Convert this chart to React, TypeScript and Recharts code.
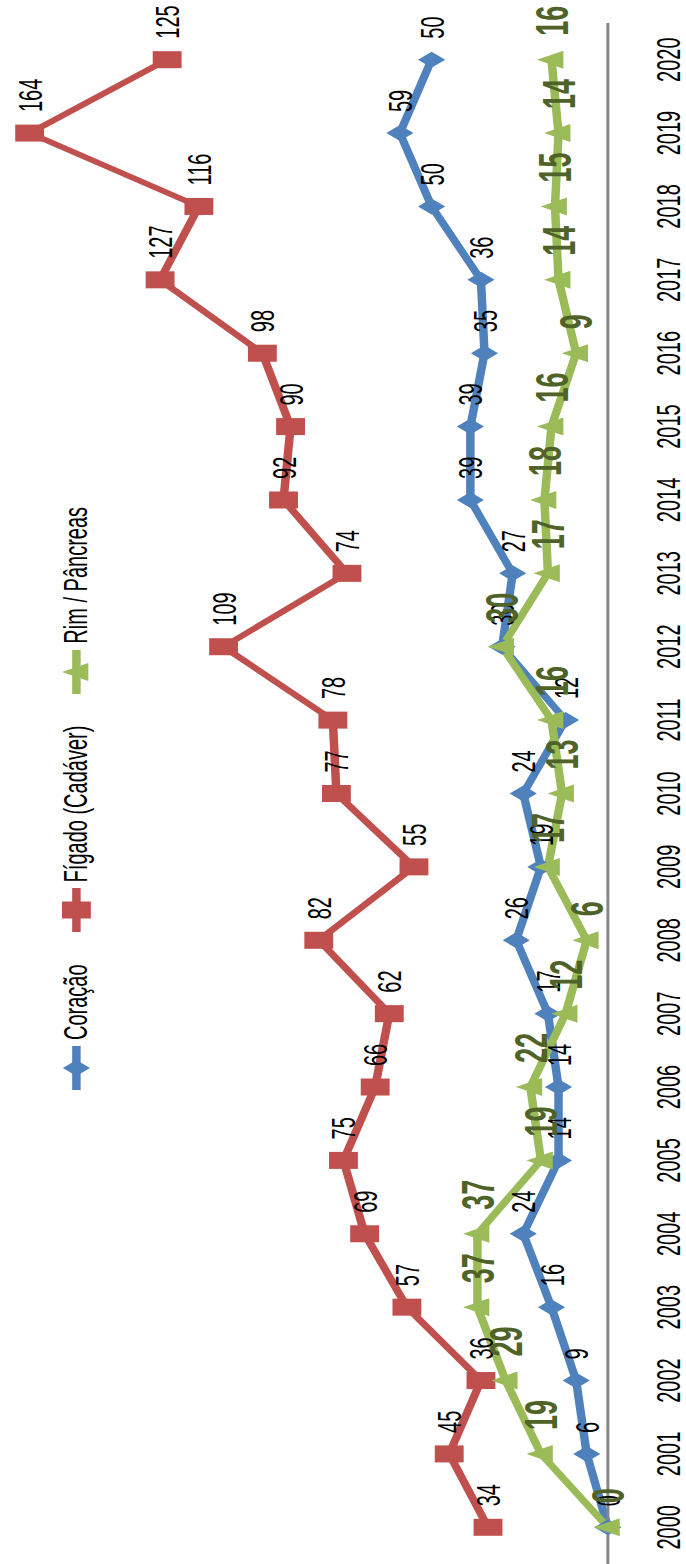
import { LineChart, Line, XAxis, YAxis, Legend, LabelList } from "recharts";

// chart is drawn lying down and then turned + stretched like the source picture
const W = 1564;
const H = 404;
const S = 686 / H;
const FONT = "'Liberation Sans', Arial, sans-serif";

const years = [
  "2000", "2001", "2002", "2003", "2004", "2005", "2006", "2007", "2008", "2009", "2010",
  "2011", "2012", "2013", "2014", "2015", "2016", "2017", "2018", "2019", "2020",
];
const coracao = [0, 6, 9, 16, 24, 14, 14, 17, 26, 19, 24, 12, 30, 27, 39, 39, 35, 36, 50, 59, 50];
const figado = [34, 45, 36, 57, 69, 75, 66, 62, 82, 55, 77, 78, 109, 74, 92, 90, 98, 127, 116, 164, 125];
const rimPancreas = [0, 19, 29, 37, 37, 19, 22, 12, 6, 17, 13, 16, 30, 17, 18, 16, 9, 14, 15, 14, 16];

const seriesNames = ["Coração", "Fígado (Cadáver)", "Rim / Pâncreas"];
const seriesKeys = ["coracao", "figado", "rim"];
const seriesColors = ["#4F81BD", "#C0504D", "#9BBB59"];

const rows = years.map((year, i) => ({
  year,
  coracao: coracao[i],
  figado: figado[i],
  rim: rimPancreas[i],
}));

function marker(kind: string, cx: number, cy: number, color: string, key?: any) {
  if (kind === "coracao") {
    const r = 8;
    return (
      <polygon key={key} points={`${cx},${cy - r} ${cx + r},${cy} ${cx},${cy + r} ${cx - r},${cy}`} fill={color} />
    );
  }
  if (kind === "figado") {
    return <rect key={key} x={cx - 8.5} y={cy - 8.5} width={17} height={17} fill={color} />;
  }
  return (
    <polygon key={key} points={`${cx},${cy - 8.5} ${cx + 9},${cy + 7} ${cx - 9},${cy + 7}`} fill={color} />
  );
}

function makeDot(kind: string, color: string) {
  return (props: any) => {
    const { cx, cy, index } = props;
    if (cx == null || cy == null) return <g key={index} />;
    return marker(kind, cx, cy, color, index);
  };
}

function LegendBox() {
  return (
    <div style={{ display: "flex", alignItems: "center", fontFamily: FONT, fontSize: 20, color: "#000", whiteSpace: "nowrap" }}>
      {seriesNames.map((name, i) => (
        <div key={name} style={{ display: "flex", alignItems: "center", marginRight: 32 }}>
          <svg width={44} height={22}>
            <line x1={0} y1={11} x2={44} y2={11} stroke={seriesColors[i]} strokeWidth={5} />
            {marker(seriesKeys[i], 22, 11, seriesColors[i])}
          </svg>
          <span style={{ marginLeft: 6 }}>{name}</span>
        </div>
      ))}
    </div>
  );
}

export default function App() {
  return (
    <div style={{ position: "fixed", left: 0, top: 0, width: 686, height: 1564, overflow: "hidden", background: "#fff" }}>
      <div
        style={{
          position: "absolute",
          left: 0,
          top: 0,
          width: W,
          height: H,
          transformOrigin: "0 0",
          transform: `translate(0px, ${W}px) scale(${S}, 1) rotate(-90deg)`,
        }}
      >
        <LineChart width={W} height={H} data={rows} margin={{ top: 5, right: 23, left: 0, bottom: 0 }} style={{ fontFamily: FONT }}>
          <XAxis
            dataKey="year"
            height={46}
            tickLine={false}
            tickSize={0}
            tickMargin={28}
            interval={0}
            padding={{ left: 36.7, right: 36.7 }}
            axisLine={{ stroke: "#868686", strokeWidth: 1.75 }}
            tick={{ fill: "#000", fontSize: 20, fontFamily: FONT }}
          />
          <YAxis hide domain={[0, 170]} />
          <Legend
            layout="horizontal"
            verticalAlign="middle"
            align="center"
            wrapperStyle={{ top: 33, left: 474, width: "auto" }}
            content={() => <LegendBox />}
          />
          <Line
            dataKey="coracao"
            name={seriesNames[0]}
            stroke={seriesColors[0]}
            strokeWidth={5}
            dot={makeDot("coracao", seriesColors[0])}
            activeDot={false}
            isAnimationActive={false}
          >
            <LabelList dataKey="coracao" position="right" offset={21} fill="#000" fontSize={20} fontFamily={FONT} />
          </Line>
          <Line
            dataKey="figado"
            name={seriesNames[1]}
            stroke={seriesColors[1]}
            strokeWidth={5}
            dot={makeDot("figado", seriesColors[1])}
            activeDot={false}
            isAnimationActive={false}
          >
            <LabelList dataKey="figado" position="right" offset={21} fill="#000" fontSize={20} fontFamily={FONT} />
          </Line>
          <Line
            dataKey="rim"
            name={seriesNames[2]}
            stroke={seriesColors[2]}
            strokeWidth={5}
            dot={makeDot("rim", seriesColors[2])}
            activeDot={false}
            isAnimationActive={false}
          >
            <LabelList
              dataKey="rim"
              position="right"
              offset={24}
              fill="#4F6228"
              fontSize={27}
              fontWeight="bold"
              fontFamily={FONT}
            />
          </Line>
        </LineChart>
      </div>
    </div>
  );
}
